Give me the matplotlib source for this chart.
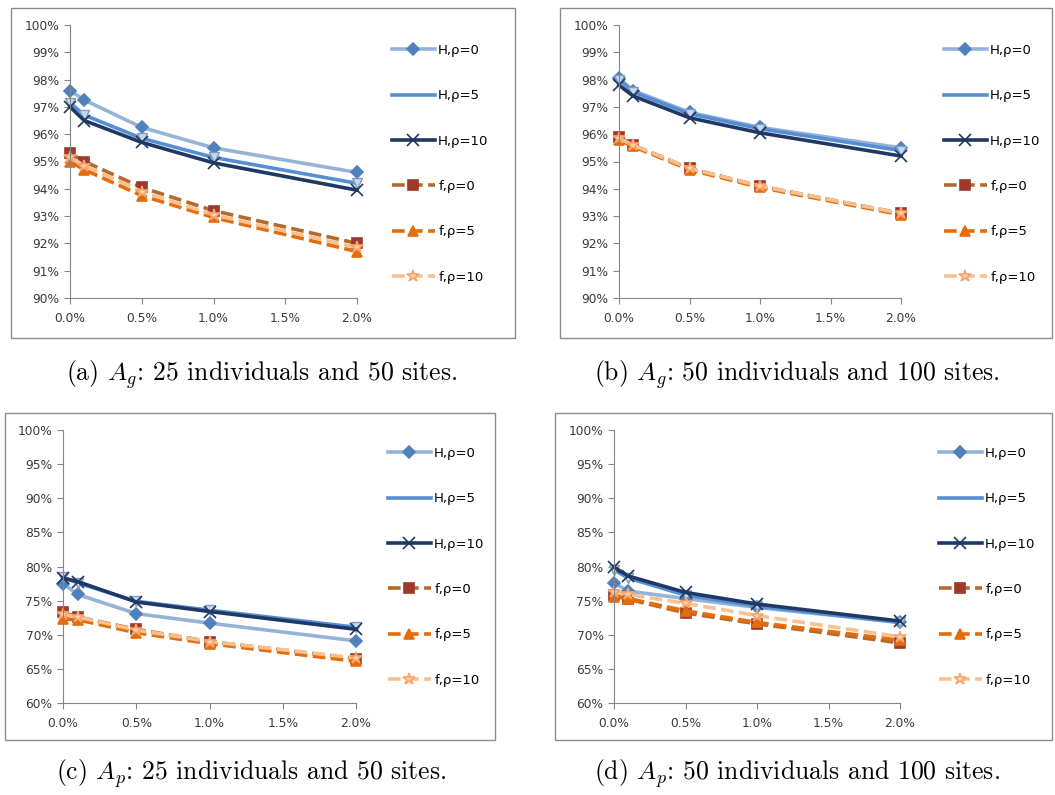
import matplotlib.pyplot as plt
from matplotlib.patches import Rectangle
from matplotlib.ticker import FuncFormatter

plt.rcParams['font.family'] = ['DejaVu Sans']
plt.rcParams['mathtext.fontset'] = 'cm'

# error rate (%) on the x axis
X = [0.0, 0.1, 0.5, 1.0, 2.0]
labels = ['H,ρ=0', 'H,ρ=5', 'H,ρ=10', 'f,ρ=0', 'f,ρ=5', 'f,ρ=10']

# accuracy (%) per series, order as in labels
ag_25_50 = [
    [97.6, 97.25, 96.25, 95.5, 94.6],
    [97.15, 96.7, 95.85, 95.15, 94.2],
    [97.0, 96.5, 95.7, 94.95, 93.95],
    [95.3, 95.0, 94.05, 93.2, 92.0],
    [95.0, 94.7, 93.75, 92.95, 91.7],
    [95.15, 94.85, 93.9, 93.05, 91.85],
]
ag_50_100 = [
    [98.05, 97.6, 96.8, 96.25, 95.5],
    [98.0, 97.55, 96.75, 96.2, 95.4],
    [97.8, 97.4, 96.6, 96.05, 95.2],
    [95.9, 95.6, 94.75, 94.1, 93.1],
    [95.8, 95.55, 94.7, 94.05, 93.05],
    [95.85, 95.6, 94.75, 94.1, 93.1],
]
ap_25_50 = [
    [77.5, 75.9, 73.1, 71.7, 69.1],
    [78.4, 77.6, 74.9, 73.6, 71.1],
    [78.3, 77.8, 74.8, 73.4, 70.8],
    [73.3, 72.6, 70.8, 69.0, 66.5],
    [72.3, 72.2, 70.3, 68.7, 66.1],
    [73.0, 72.6, 70.7, 69.0, 66.6],
]
ap_50_100 = [
    [77.6, 76.4, 75.3, 74.0, 71.8],
    [79.5, 78.3, 75.8, 74.2, 71.8],
    [79.9, 78.6, 76.2, 74.5, 72.0],
    [75.8, 75.2, 73.2, 71.6, 68.8],
    [75.6, 75.3, 73.5, 71.8, 69.2],
    [76.2, 75.9, 74.6, 72.8, 69.7],
]

captions = [r'(a) $A_g$: 25 individuals and 50 sites.',
            r'(b) $A_g$: 50 individuals and 100 sites.',
            r'(c) $A_p$: 25 individuals and 50 sites.',
            r'(d) $A_p$: 50 individuals and 100 sites.']

line_colors = ['#95B3D7', '#558ED5', '#1F3864', '#B46A2E', '#E46C0A', '#FAC090']
styles = ['-', '-', '-', '--', '--', '--']
markers = ['D', 'v', 'x', 's', '^', '*']
mk_face = ['#4F81BD', '#C6D9F1', '#1F3864', '#A0392B', '#E46C0A', '#FCD5B4']
mk_edge = ['#4F81BD', '#7F9DB9', '#1F3864', '#A0392B', '#E46C0A', '#F7A56A']
mk_size = [6, 7, 9, 7, 7, 9]

W, H = 1055, 795
fig = plt.figure(figsize=(W / 100, H / 100), dpi=100)


def fx(x):
    return x / W


def fy(y):
    return 1 - y / H


def rect(x0, y0, x1, y1):
    return [fx(x0), fy(y1), fx(x1) - fx(x0), fy(y0) - fy(y1)]


panels = [
    # data, axes box (px), frame box (px), ylim, ystep, legend top-left (px), caption pos
    (ag_25_50, (70, 25, 357, 298), (11, 8, 515, 338), (90, 100), 1, (392, 44), (262, 375)),
    (ag_50_100, (619, 25, 901, 298), (560, 8, 1052, 338), (90, 100), 1, (944, 44), (797, 375)),
    (ap_25_50, (63, 430, 356, 703), (5, 413, 495, 740), (60, 100), 5, (388, 447), (251, 774)),
    (ap_50_100, (614, 430, 900, 703), (555, 413, 1052, 740), (60, 100), 5, (939, 447), (797, 774)),
]

for k, (data, box, frame, ylim, ystep, leg, cap) in enumerate(panels):
    fig.add_artist(Rectangle((fx(frame[0]), fy(frame[3])), fx(frame[2]) - fx(frame[0]),
                             fy(frame[1]) - fy(frame[3]), transform=fig.transFigure,
                             fill=False, ec='#8C8C8C', lw=1))
    ax = fig.add_axes(rect(*box))
    handles = []
    for i, ys in enumerate(data):
        if i == 1:
            ln, = ax.plot(X, ys, ls=styles[i], color=line_colors[i], lw=2.6,
                          label=labels[i], clip_on=False)
            ax.plot(X, ys, ls='none', marker=markers[i], ms=mk_size[i],
                    mfc=mk_face[i], mec=mk_edge[i], clip_on=False)
        else:
            ln, = ax.plot(X, ys, ls=styles[i], color=line_colors[i], lw=2.6,
                          marker=markers[i], ms=mk_size[i], mfc=mk_face[i],
                          mec=mk_edge[i], mew=1.2, label=labels[i], clip_on=False,
                          dashes=(3.5, 1.5) if styles[i] == '--' else (None, None))
        handles.append(ln)
    ax.set_xlim(0, 2.0)
    ax.set_ylim(*ylim)
    ax.set_xticks([0, 0.5, 1.0, 1.5, 2.0])
    ax.set_yticks(range(ylim[0], ylim[1] + 1, ystep))
    ax.xaxis.set_major_formatter(FuncFormatter(lambda v, p: '%.1f%%' % v))
    ax.yaxis.set_major_formatter(FuncFormatter(lambda v, p: '%d%%' % v))
    for s in ['top', 'right']:
        ax.spines[s].set_visible(False)
    for s in ['left', 'bottom']:
        ax.spines[s].set_color('#868686')
        ax.spines[s].set_linewidth(0.8)
    ax.tick_params(labelsize=8.8, colors='#868686', labelcolor='#3A3A3A', length=4, width=0.8)
    ax.tick_params(axis='x', pad=6)
    ax.patch.set_alpha(0)

    fig.legend(handles=handles, loc='upper left', bbox_to_anchor=(fx(leg[0]), fy(leg[1])),
               frameon=False, fontsize=9.5, labelspacing=2.45, handlelength=3.25,
               handletextpad=0.25, borderaxespad=0, borderpad=0)

    fig.text(fx(cap[0]), fy(cap[1]), captions[k], ha='center', va='center',
             fontsize=18.5, family='cmr10')

fig.savefig('out.png', dpi=100)
